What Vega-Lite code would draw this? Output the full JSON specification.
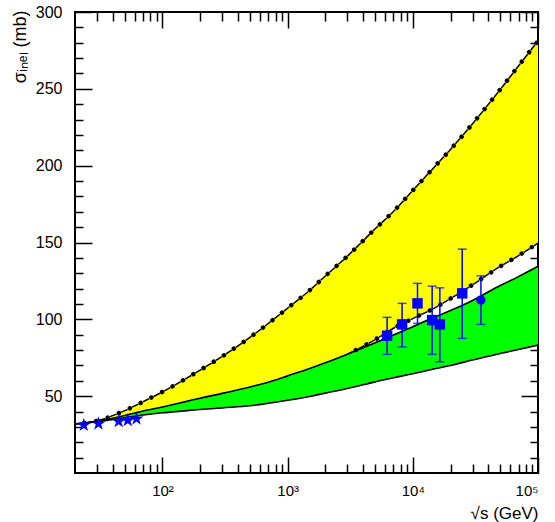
{
  "$schema": "https://vega.github.io/schema/vega-lite/v6.json",
  "width": 463,
  "height": 461,
  "autosize": "none",
  "padding": {"left": 75, "top": 12, "right": 17, "bottom": 49},
  "background": "white",
  "config": {
    "view": {"stroke": "black", "strokeWidth": 2},
    "font": "Liberation Sans",
    "axis": {
      "labelFont": "Liberation Sans",
      "titleFont": "Liberation Sans",
      "labelColor": "black",
      "titleColor": "black",
      "tickColor": "black",
      "tickWidth": 1.5,
      "domain": false,
      "grid": false,
      "titleFontWeight": "normal",
      "zindex": 1
    }
  },
  "datasets": {
    "curves": [
      {"s": 20, "upper": 31.9, "ylow": 31.9, "gtop": 31.9, "low": 31.9},
      {"s": 30, "upper": 34.0, "ylow": 33.6, "gtop": 33.6, "low": 33.4},
      {"s": 50, "upper": 40.6, "ylow": 37.4, "gtop": 37.4, "low": 36.0},
      {"s": 70, "upper": 46.4, "ylow": 40.3, "gtop": 40.3, "low": 37.7},
      {"s": 100, "upper": 52.8, "ylow": 43.0, "gtop": 43.0, "low": 39.2},
      {"s": 150, "upper": 60.9, "ylow": 46.3, "gtop": 46.3, "low": 40.4},
      {"s": 200, "upper": 67.0, "ylow": 48.7, "gtop": 48.7, "low": 41.3},
      {"s": 300, "upper": 75.9, "ylow": 51.8, "gtop": 51.8, "low": 42.4},
      {"s": 500, "upper": 88.3, "ylow": 56.0, "gtop": 56.0, "low": 43.8},
      {"s": 700, "upper": 97.3, "ylow": 59.0, "gtop": 59.0, "low": 45.4},
      {"s": 1000, "upper": 107.3, "ylow": 63.2, "gtop": 63.2, "low": 47.3},
      {"s": 1500, "upper": 118.9, "ylow": 68.0, "gtop": 68.0, "low": 49.8},
      {"s": 2000, "upper": 128.2, "ylow": 71.7, "gtop": 71.7, "low": 52.0},
      {"s": 3000, "upper": 141.1, "ylow": 77.3, "gtop": 77.3, "low": 55.0},
      {"s": 5000, "upper": 158.9, "ylow": 86.8, "gtop": 84.7, "low": 59.3},
      {"s": 7000, "upper": 170.2, "ylow": 94.2, "gtop": 89.8, "low": 62.0},
      {"s": 10000, "upper": 183.9, "ylow": 100.5, "gtop": 95.2, "low": 64.6},
      {"s": 15000, "upper": 199.5, "ylow": 107.5, "gtop": 101.5, "low": 67.8},
      {"s": 20000, "upper": 210.6, "ylow": 113.5, "gtop": 105.7, "low": 70.0},
      {"s": 30000, "upper": 227.3, "ylow": 122.5, "gtop": 112.3, "low": 73.5},
      {"s": 50000, "upper": 249.7, "ylow": 134.5, "gtop": 122.0, "low": 77.8},
      {"s": 70000, "upper": 265.0, "ylow": 141.5, "gtop": 127.8, "low": 80.4},
      {"s": 100000, "upper": 281.2, "ylow": 149.6, "gtop": 134.5, "low": 83.2}
    ],
    "pts": [
      {"s": 6230, "sig": 89.3, "lo": 77.2, "hi": 101.3, "kind": "square"},
      {"s": 8210, "sig": 96.7, "lo": 82.1, "hi": 110.4, "kind": "square"},
      {"s": 10900, "sig": 110.4, "lo": 97.4, "hi": 123.4, "kind": "square"},
      {"s": 14270, "sig": 99.5, "lo": 77.2, "hi": 121.6, "kind": "square"},
      {"s": 16440, "sig": 96.7, "lo": 72.4, "hi": 120.5, "kind": "square"},
      {"s": 24800, "sig": 116.9, "lo": 87.6, "hi": 145.7, "kind": "square"},
      {"s": 34990, "sig": 112.5, "lo": 96.7, "hi": 128.3, "kind": "circle"}
    ],
    "stars": [
      {"s": 23.5, "sig": 31.2},
      {"s": 30.8, "sig": 32.1},
      {"s": 44.7, "sig": 33.6},
      {"s": 52.8, "sig": 34.3},
      {"s": 62.0, "sig": 35.3}
    ]
  },
  "resolve": {"scale": {"x": "shared", "y": "shared"}, "axis": {"x": "independent", "y": "independent"}},
  "layer": [
    {
      "data": {"name": "curves"},
      "mark": {"type": "area", "color": "#ffff00", "opacity": 1, "interpolate": "monotone"},
      "encoding": {
        "x": {"field": "s", "type": "quantitative", "scale": {"type": "log", "domain": [20, 100000], "nice": false},
          "axis": {"orient": "bottom", "values": [100, 1000, 10000, 100000], "tickSize": -16, "labelFontSize": 15, "labelPadding": 26,
            "labelExpr": "datum.value == 100 ? '10²' : datum.value == 1000 ? '10³' : datum.value == 10000 ? '10⁴' : '10⁵'",
            "title": "√s (GeV)", "titleFontSize": 17, "titleX": 463, "titleY": 45, "titleAlign": "right", "titleBaseline": "alphabetic", "titleAnchor": "end"}},
        "y": {"field": "upper", "type": "quantitative", "scale": {"domain": [0, 300], "nice": false},
          "axis": {"orient": "left", "values": [50, 100, 150, 200, 250, 300], "tickSize": -17, "labelFontSize": 16, "labelPadding": 30,
            "title": "σᵢₙₑₗ (mb)", "titleFontSize": 18, "titleAngle": -90, "titleX": -55, "titleY": -2, "titleAlign": "right", "titleBaseline": "middle", "titleAnchor": "end"}},
        "y2": {"field": "ylow"}
      }
    },
    {
      "data": {"name": "curves"},
      "mark": {"type": "area", "color": "#00ff00", "opacity": 1, "interpolate": "monotone"},
      "encoding": {
        "x": {"field": "s", "type": "quantitative", "scale": {"type": "log", "domain": [20, 100000], "nice": false},
          "axis": {"orient": "bottom", "values": [30, 40, 50, 60, 70, 80, 90, 200, 300, 400, 500, 600, 700, 800, 900, 2000, 3000, 4000, 5000, 6000, 7000, 8000, 9000, 20000, 30000, 40000, 50000, 60000, 70000, 80000, 90000], "tickSize": -9, "labels": false, "title": null}},
        "y": {"field": "gtop", "type": "quantitative", "scale": {"domain": [0, 300], "nice": false},
          "axis": {"orient": "left", "values": [10, 20, 30, 40, 60, 70, 80, 90, 110, 120, 130, 140, 160, 170, 180, 190, 210, 220, 230, 240, 260, 270, 280, 290], "tickSize": -8, "labels": false, "title": null}},
        "y2": {"field": "low"}
      }
    },
    {
      "data": {"name": "curves"},
      "mark": {"type": "line", "color": "black", "strokeWidth": 1.5, "strokeDash": [7, 5], "interpolate": "monotone"},
      "encoding": {
        "x": {"field": "s", "type": "quantitative", "scale": {"type": "log", "domain": [20, 100000], "nice": false},
          "axis": {"orient": "top", "values": [100, 1000, 10000, 100000], "tickSize": -16, "labels": false, "title": null}},
        "y": {"field": "upper", "type": "quantitative", "scale": {"domain": [0, 300], "nice": false},
          "axis": {"orient": "right", "values": [50, 100, 150, 200, 250, 300], "tickSize": -17, "labels": false, "title": null}}
      }
    },
    {
      "data": {"name": "curves"},
      "mark": {"type": "line", "color": "black", "strokeWidth": 4.5, "strokeCap": "round", "strokeDash": [0.01, 11.99], "strokeDashOffset": 2.5, "interpolate": "monotone"},
      "encoding": {
        "x": {"field": "s", "type": "quantitative", "scale": {"type": "log", "domain": [20, 100000], "nice": false},
          "axis": {"orient": "top", "values": [30, 40, 50, 60, 70, 80, 90, 200, 300, 400, 500, 600, 700, 800, 900, 2000, 3000, 4000, 5000, 6000, 7000, 8000, 9000, 20000, 30000, 40000, 50000, 60000, 70000, 80000, 90000], "tickSize": -9, "labels": false, "title": null}},
        "y": {"field": "upper", "type": "quantitative", "scale": {"domain": [0, 300], "nice": false},
          "axis": {"orient": "right", "values": [10, 20, 30, 40, 60, 70, 80, 90, 110, 120, 130, 140, 160, 170, 180, 190, 210, 220, 230, 240, 260, 270, 280, 290], "tickSize": -8, "labels": false, "title": null}}
      }
    },
    {
      "data": {"name": "curves"},
      "transform": [{"filter": "datum.s >= 3000"}],
      "mark": {"type": "line", "color": "black", "strokeWidth": 1.5, "strokeDash": [7, 5], "interpolate": "monotone"},
      "encoding": {
        "x": {"field": "s", "type": "quantitative", "axis": null},
        "y": {"field": "ylow", "type": "quantitative", "axis": null}
      }
    },
    {
      "data": {"name": "curves"},
      "transform": [{"filter": "datum.s >= 3000"}],
      "mark": {"type": "line", "color": "black", "strokeWidth": 4.5, "strokeCap": "round", "strokeDash": [0.01, 11.99], "strokeDashOffset": 2.5, "interpolate": "monotone"},
      "encoding": {
        "x": {"field": "s", "type": "quantitative", "axis": null},
        "y": {"field": "ylow", "type": "quantitative", "axis": null}
      }
    },
    {
      "data": {"name": "curves"},
      "mark": {"type": "line", "color": "black", "strokeWidth": 1.6, "interpolate": "monotone"},
      "encoding": {
        "x": {"field": "s", "type": "quantitative", "axis": null},
        "y": {"field": "gtop", "type": "quantitative", "axis": null}
      }
    },
    {
      "data": {"name": "curves"},
      "mark": {"type": "line", "color": "black", "strokeWidth": 1.6, "interpolate": "monotone"},
      "encoding": {
        "x": {"field": "s", "type": "quantitative", "axis": null},
        "y": {"field": "low", "type": "quantitative", "axis": null}
      }
    },
    {
      "data": {"name": "pts"},
      "mark": {"type": "rule", "color": "#0000ff", "strokeWidth": 1.5},
      "encoding": {
        "x": {"field": "s", "type": "quantitative", "axis": null},
        "y": {"field": "lo", "type": "quantitative", "axis": null},
        "y2": {"field": "hi"}
      }
    },
    {
      "data": {"name": "pts"},
      "mark": {"type": "tick", "orient": "horizontal", "color": "#0000ff", "size": 9, "thickness": 1.5},
      "encoding": {
        "x": {"field": "s", "type": "quantitative", "axis": null},
        "y": {"field": "lo", "type": "quantitative", "axis": null}
      }
    },
    {
      "data": {"name": "pts"},
      "mark": {"type": "tick", "orient": "horizontal", "color": "#0000ff", "size": 9, "thickness": 1.5},
      "encoding": {
        "x": {"field": "s", "type": "quantitative", "axis": null},
        "y": {"field": "hi", "type": "quantitative", "axis": null}
      }
    },
    {
      "data": {"name": "pts"},
      "transform": [{"filter": "datum.kind == 'square'"}],
      "mark": {"type": "point", "shape": "square", "filled": true, "color": "#0000ff", "size": 110, "opacity": 1},
      "encoding": {
        "x": {"field": "s", "type": "quantitative", "axis": null},
        "y": {"field": "sig", "type": "quantitative", "axis": null}
      }
    },
    {
      "data": {"name": "pts"},
      "transform": [{"filter": "datum.kind == 'circle'"}],
      "mark": {"type": "point", "shape": "circle", "filled": true, "color": "#0000ff", "size": 85, "opacity": 1},
      "encoding": {
        "x": {"field": "s", "type": "quantitative", "axis": null},
        "y": {"field": "sig", "type": "quantitative", "axis": null}
      }
    },
    {
      "data": {"name": "stars"},
      "mark": {"type": "point", "shape": "M0,-1L0.2245,-0.309L0.9511,-0.309L0.3633,0.118L0.5878,0.809L0,0.382L-0.5878,0.809L-0.3633,0.118L-0.9511,-0.309L-0.2245,-0.309Z", "filled": true, "color": "#0000ff", "size": 220, "opacity": 1},
      "encoding": {
        "x": {"field": "s", "type": "quantitative", "axis": null},
        "y": {"field": "sig", "type": "quantitative", "axis": null}
      }
    }
  ]
}
